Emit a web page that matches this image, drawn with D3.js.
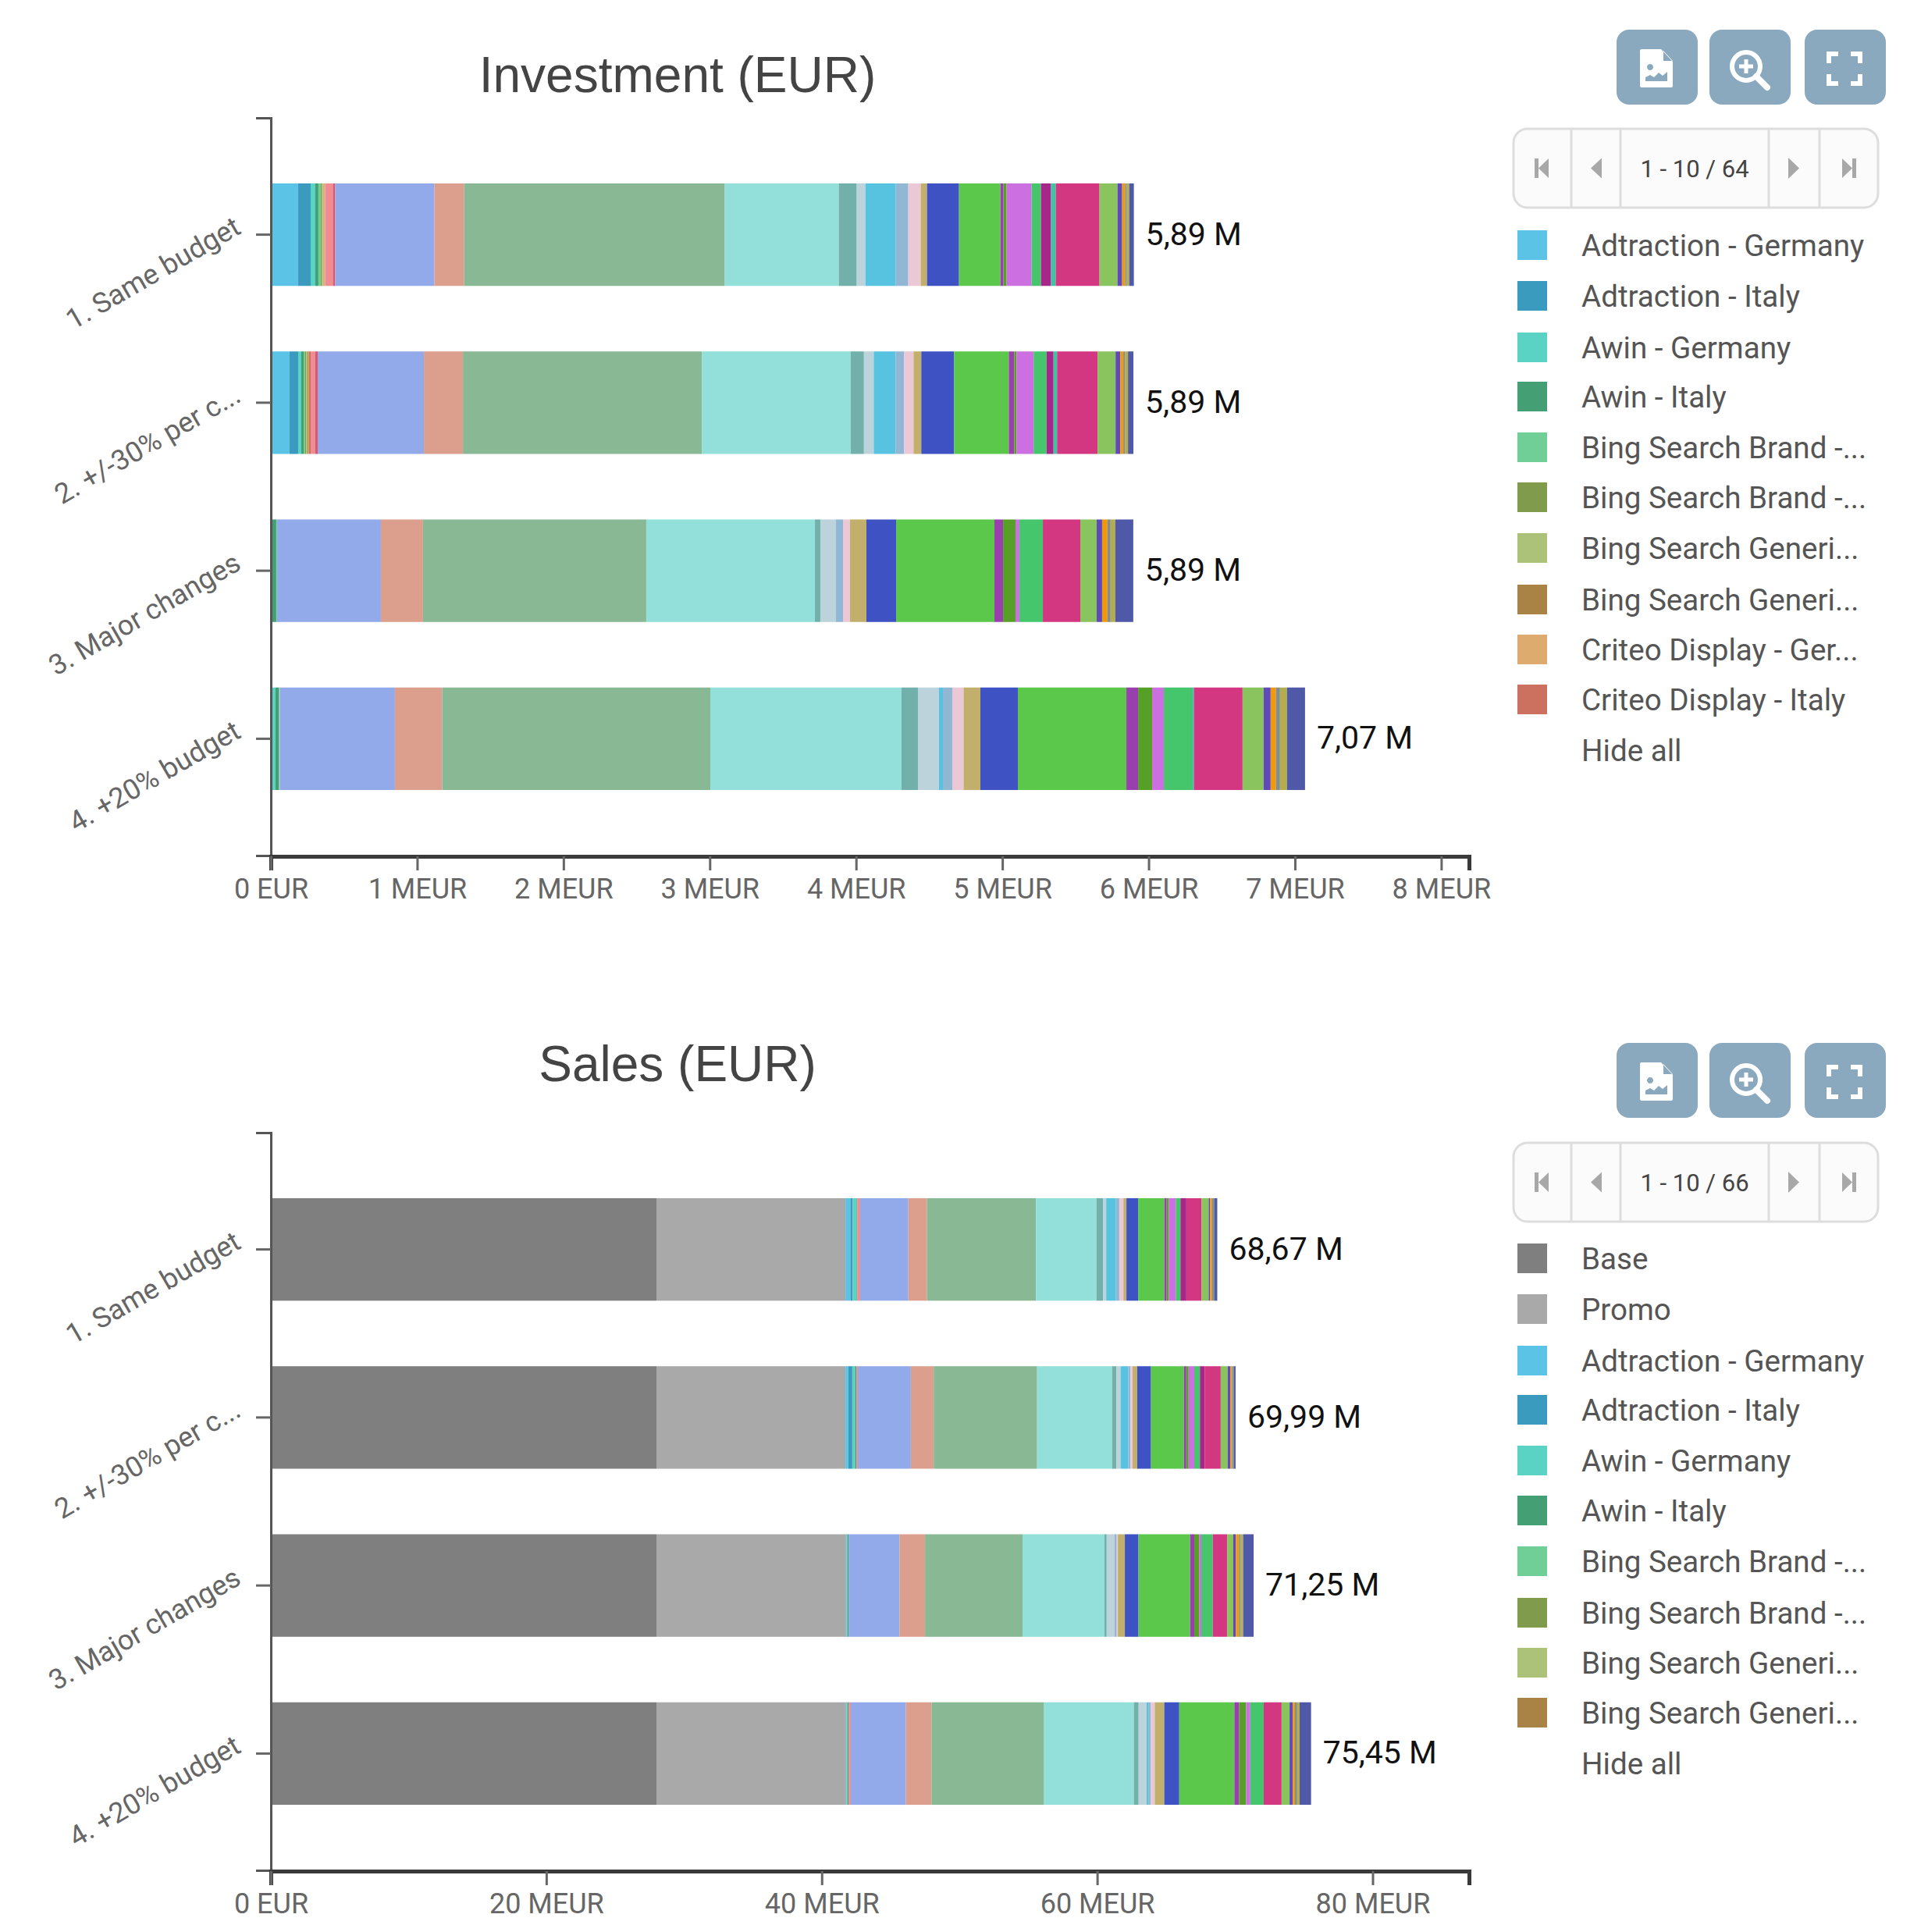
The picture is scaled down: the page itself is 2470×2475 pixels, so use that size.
<!DOCTYPE html>
<html><head><meta charset="utf-8">
<script src="https://cdnjs.cloudflare.com/ajax/libs/d3/7.8.5/d3.min.js"></script>
<style>html,body{margin:0;background:#fff}svg{display:block}</style></head>
<body><svg id="c" width="2470" height="2475"></svg>
<script>
const scenarios=["1. Same budget","2. +/-30% per c...","3. Major changes","4. +20% budget"];
const scenarioTotalsInv=["5,89 M","5,89 M","5,89 M","7,07 M"];
const scenarioTotalsSales=["68,67 M","69,99 M","71,25 M","75,45 M"];
const legendInv=["Adtraction - Germany","Adtraction - Italy","Awin - Germany","Awin - Italy","Bing Search Brand -...","Bing Search Brand -...","Bing Search Generi...","Bing Search Generi...","Criteo Display - Ger...","Criteo Display - Italy"];
const legendSales=["Base","Promo","Adtraction - Germany","Adtraction - Italy","Awin - Germany","Awin - Italy","Bing Search Brand -...","Bing Search Brand -...","Bing Search Generi...","Bing Search Generi..."];
const channelColors=["#5bc4e6","#3a9bbf","#5ad2c4","#459f74","#6fcf97","#7f9b4b","#adc279","#a98345","#dcab6d","#cc7060","#ef8d92","#d8596f","#93aaea","#dc9f8d","#88b994","#92e0d9","#72b0ac","#bcd3dc","#57c3e0","#92b7d4","#eac8d6","#c3af6c","#3f52c3","#5bc84b","#9a3fae","#57a028","#cc6fe0","#45c66c","#a5278a","#3fc3a0","#d43781","#8ac45f","#5f4ab8","#f0990d","#7f8f8f","#b3ad4d","#5058a8"];
const baseColors=["#7f7f7f","#a9a9a9"];
const invSame=[.187,.085,.032,.021,.016,.008,.008,.003,.011,0,.053,.016,.678,.203,1.782,.779,.123,.059,.208,.085,.085,.043,.219,.283,.021,.021,.171,.064,.069,.032,.299,.123,.032,.021,.011,.016,.032];
const invPlusMinus=[.128,.059,.021,.016,.008,.011,.008,.005,.005,.011,.032,.016,.726,.267,1.633,1.017,.091,.067,.149,.059,.064,.053,.224,.374,.037,.016,.117,.088,.048,.024,.277,.123,.032,.021,.011,.021,.037];
const invMajor=[0,0,0,.037,.005,0,0,0,0,0,0,0,.71,.288,1.526,1.153,.037,.107,0,.048,.048,.112,.203,.672,.059,.085,.027,.16,0,0,.256,.112,.037,.037,.021,.032,.123];
const invPlus20=[0,0,.032,.024,.005,0,0,0,0,0,0,0,.787,.323,1.833,1.307,.112,.144,.027,.064,.077,.115,.256,.742,.08,.096,.08,.192,0,.013,.333,.144,.048,.037,.027,.048,.123];
const salesBase=[28,28,28,28];
const salesPromo=[13.72,13.72,13.75,13.75];
const salesSame=[.36,.17,.28,.06,0,0,0,0,0,0,.2,0,3.5,1.355,7.91,4.39,.49,.22,.71,.24,.3,.22,.85,1.9,.17,.15,.51,.34,.43,0,1.11,.51,.1,.15,.15,0,.225];
const salesPlusMinus=[.2,.3,.2,.1,0,0,0,0,0,0,.1,0,3.85,1.66,7.51,5.44,.31,.31,.55,.16,.16,.34,1,2.39,.17,.17,.41,.41,.34,0,1.17,.51,.2,.12,.12,0,.13];
const salesMajor=[0,.05,.07,.08,0,0,0,0,0,0,0,0,3.7,1.85,7.08,5.95,.16,.57,0,.16,.08,.51,.99,3.75,.3,.35,.16,.83,0,0,1.05,.44,.19,.23,.12,.18,.76];
const salesPlus20=[0,.05,.07,.08,0,0,0,0,0,0,.16,0,4,1.86,8.14,6.55,.35,.58,.12,.19,.28,.69,1.09,4,.35,.51,.3,.97,0,0,1.3,.58,.23,.16,.16,.18,.83];
const invTicks=[0,1,2,3,4,5,6,7,8];
const salesTicks=[0,20,40,60,80];

const svg=d3.select("#c");
const FONT="Roboto, sans-serif", LAT="'Liberation Sans', Arial, sans-serif";

function stackBars(g,rows,x,y,colors,labels){
  const keys=d3.range(rows[0].length);
  const series=d3.stack().keys(keys).value((r,k)=>r[k])(rows);
  g.selectAll("g.s").data(series).join("g").attr("class","s").attr("fill",(d,i)=>colors[i])
    .selectAll("rect").data((d)=>d.map((v,i)=>({v,i}))).join("rect")
    .attr("x",d=>x(d.v[0])).attr("width",d=>Math.max(0,x(d.v[1])-x(d.v[0])))
    .attr("y",d=>y(scenarios[d.i])).attr("height",y.bandwidth());
  g.selectAll("text.total").data(rows).join("text").attr("class","total")
    .attr("x",r=>x(d3.sum(r))+15).attr("y",(r,i)=>y(scenarios[i])+y.bandwidth()/2+13)
    .attr("font-family",FONT).attr("font-size",41).attr("fill","#111")
    .text((r,i)=>labels[i]);
}
function chart(o){
  const g=svg.append("g").attr("transform",`translate(0,${o.dy})`);
  const x=d3.scaleLinear().domain([0,o.max]).range([347,1882]);
  const y=d3.scaleBand().domain(scenarios).range([151,1096]).padding(0.39);
  g.append("text").attr("x",868).attr("y",o.titleY).attr("text-anchor","middle")
    .attr("font-family",LAT).attr("font-size",64).attr("fill","#444").text(o.title);
  stackBars(g.append("g"),o.rows,x,y,o.colors,o.labels);
  const ay=g.append("g").attr("transform","translate(347,0)")
    .call(d3.axisLeft(y).tickSize(19).tickPadding(0));
  ay.select(".domain").attr("stroke","#555").attr("stroke-width",3);
  ay.selectAll(".tick line").attr("stroke","#666").attr("stroke-width",3);
  ay.selectAll("text").attr("font-family",FONT).attr("font-size",36).attr("fill","#666")
    .attr("dy","0.1em").attr("text-anchor","end")
    .attr("transform","translate(-38,-6) rotate(-30)").attr("x",0);
  const ax=g.append("g").attr("transform","translate(0,1097)")
    .call(d3.axisBottom(x).tickValues(o.ticks).tickFormat(o.fmt).tickSize(18).tickPadding(10));
  ax.select(".domain").attr("stroke","#3a3a3a").attr("stroke-width",5);
  ax.selectAll(".tick line").attr("stroke","#666").attr("stroke-width",3);
  ax.selectAll("text").attr("font-family",FONT).attr("font-size",36).attr("fill","#666");
  // toolbar + pager + legend
  const p=g.append("g").attr("transform",`translate(0,${o.panelDy})`);
  const btns=[[2071,"file"],[2190,"zoom"],[2312,"full"]];
  btns.forEach(([bx,k])=>{
    const b=p.append("g").attr("transform",`translate(${bx},38)`);
    b.append("rect").attr("width",104).attr("height",96).attr("rx",16).attr("fill","#8aa9bf");
    if(k==="file"){
      b.append("path").attr("fill","#fff").attr("fill-rule","evenodd")
       .attr("d","M32 25h25l15 16v31a2 2 0 0 1-2 2H32a2 2 0 0 1-2-2V27a2 2 0 0 1 2-2zM60 27v13h12zM37 66h28v-12l-6 5-5-4-6 6-5-3-6 3zM43 44a4 4 0 1 0 .01 0z");
    }else if(k==="zoom"){
      b.append("circle").attr("cx",47).attr("cy",47).attr("r",18).attr("fill","none").attr("stroke","#fff").attr("stroke-width",6);
      b.append("path").attr("d","M47 38v18M38 47h18").attr("stroke","#fff").attr("stroke-width",5);
      b.append("path").attr("d","M60 60l14 14").attr("stroke","#fff").attr("stroke-width",8).attr("stroke-linecap","round");
    }else{
      b.append("path").attr("d","M31 43V31h12M59 31h12v12M71 57v12H59M43 69H31V57").attr("fill","none").attr("stroke","#fff").attr("stroke-width",6);
    }
  });
  const pg=p.append("g").attr("transform",`translate(0,${o.pagerDy})`);
  pg.append("rect").attr("x",1939).attr("y",165).attr("width",467).attr("height",101).attr("rx",18)
    .attr("fill","#fbfbfb").attr("stroke","#ddd").attr("stroke-width",3);
  [2013,2076,2266,2331].forEach(v=>pg.append("line").attr("x1",v).attr("x2",v).attr("y1",165).attr("y2",266).attr("stroke","#ddd").attr("stroke-width",3));
  pg.append("text").attr("x",2171).attr("y",227).attr("text-anchor","middle").attr("font-family",FONT)
    .attr("font-size",31).attr("fill","#444").text(o.pager);
  const tri="#a8a8a8";
  pg.append("path").attr("fill",tri).attr("d","M1966 203h5v25h-5zM1971 215.5l13-12.5v25z");
  pg.append("path").attr("fill",tri).attr("d","M2038 215.5l14-13v26z");
  pg.append("path").attr("fill",tri).attr("d","M2291 202l14 13.5-14 13.5z");
  pg.append("path").attr("fill",tri).attr("d","M2360 203l13 12.5-13 12.5zM2373 203h5v25h-5z");
  const rowsY=[314,379,445,508,573,637,702,768,832,896];
  const lg=p.selectAll("g.l").data(o.legend).join("g").attr("class","l");
  lg.append("rect").attr("x",1944).attr("width",38).attr("height",38).attr("y",(d,i)=>rowsY[i]-19)
    .attr("fill",(d,i)=>o.colors[i]);
  lg.append("text").attr("x",2026).attr("y",(d,i)=>rowsY[i]+13.5).attr("font-family",FONT)
    .attr("font-size",38.6).attr("fill","#555").text(d=>d);
  p.append("text").attr("x",2026).attr("y",975).attr("font-family",FONT).attr("font-size",38.6).attr("fill","#555").text("Hide all");
}
chart({dy:0,panelDy:0,pagerDy:0,titleY:118,title:"Investment (EUR)",max:8.19,ticks:invTicks,
  fmt:d=>d===0?"0 EUR":d+" MEUR",rows:[invSame,invPlusMinus,invMajor,invPlus20],
  colors:channelColors,labels:scenarioTotalsInv,pager:"1 - 10 / 64",legend:legendInv});
chart({dy:1300,panelDy:-2,pagerDy:1,titleY:85,title:"Sales (EUR)",max:87,ticks:salesTicks,
  fmt:d=>d===0?"0 EUR":d+" MEUR",
  rows:[salesSame,salesPlusMinus,salesMajor,salesPlus20].map((r,i)=>[salesBase[i],salesPromo[i],...r]),
  colors:baseColors.concat(channelColors),labels:scenarioTotalsSales,pager:"1 - 10 / 66",legend:legendSales});
</script></body></html>
